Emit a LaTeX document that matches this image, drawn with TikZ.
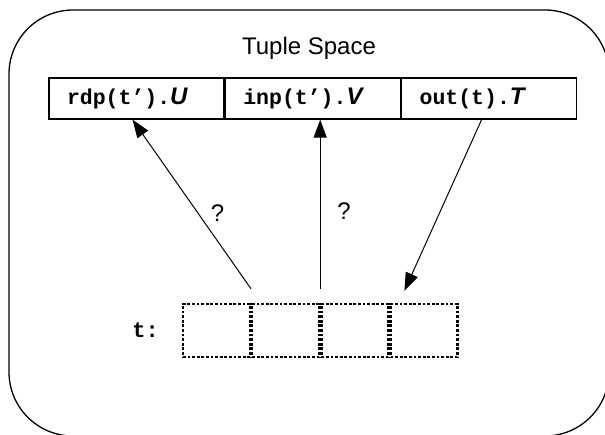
\documentclass[tikz,border=0pt]{standalone}
\usepackage{fontspec}
\setmainfont{Liberation Sans}
\newfontfamily\codefont{Liberation Mono}
\usetikzlibrary{positioning,arrows.meta}
\newcommand{\procvar}[1]{{\rmfamily\bfseries\itshape\fontsize{12}{14}\selectfont #1}}
\tikzset{
  cell/.style={draw, line width=0.65pt, minimum height=20.5pt, text width=69.5pt, inner xsep=9pt, inner ysep=0pt, align=left, font=\codefont\bfseries\fontsize{10.75}{13}\selectfont},
  slot/.style={draw, line width=1.2pt, dash pattern=on 1.4pt off 0.9pt, minimum width=33.4pt, minimum height=26.5pt, inner sep=0pt},
  arr/.style={line width=0.5pt, -{Triangle[length=9pt,width=6.5pt]}},
  qlabel/.style={font=\fontsize{12}{14}\selectfont},
  codelabel/.style={font=\codefont\bfseries\fontsize{11}{13}\selectfont}
}
\begin{document}
\begin{tikzpicture}[x=0.5pt,y=-0.5pt]
\useasboundingbox (0,0) rectangle (605,434);
\clip (0,0) rectangle (605,434);

%Tuple space
\draw[line width=0.65pt, rounded corners=32pt] (9,10) rectangle (609,436);
\node[qlabel] (title) at (309,48) {Tuple Space};

\node[cell] (cellU) at (136.5,98.5) {rdp(t’).\procvar{U}};
\node[cell, right=0pt of cellU] (cellV) {inp(t’).\procvar{V}};
\node[cell, right=0pt of cellV] (cellT) {out(t).\procvar{T}};

%the tuple t
\node[slot] (slot1) at (216.4,330.5) {};
\node[slot, right=0pt of slot1] (slot2) {};
\node[slot, right=0pt of slot2] (slot3) {};
\node[slot, right=0pt of slot3] (slot4) {};
\node[codelabel, left=8pt of slot1] (tlabel) {t:};

\coordinate (up1) at ([yshift=7pt]slot1.north east);
\coordinate (up2) at ([yshift=7pt]slot2.north east);

\draw[arr] (up1) -- node[qlabel, pos=0.45, right=3pt] {?} ([xshift=-2pt]cellU.south);
\draw[arr] (up2) -- node[qlabel, pos=0.46, right=5pt] {?} (up2 |- cellV.south);
\draw[arr] ([xshift=-3.75pt]cellT.south) -- ([xshift=7.5pt,yshift=6pt]slot4.north west);

\end{tikzpicture}
\end{document}
